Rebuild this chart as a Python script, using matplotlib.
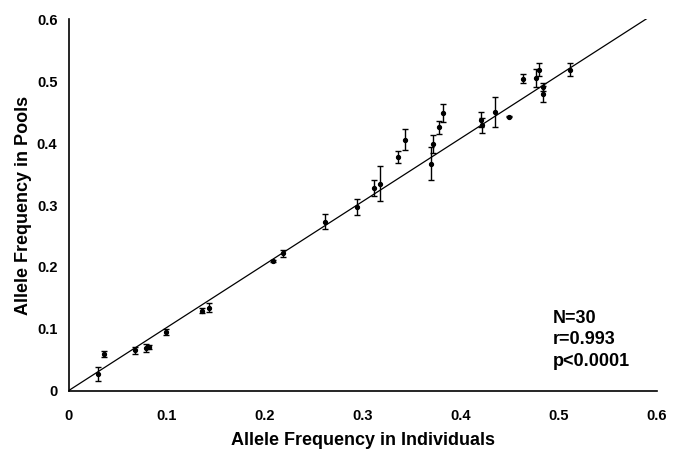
import matplotlib
matplotlib.use("Agg")
import matplotlib.pyplot as plt

plt.rcParams['font.family'] = ['Liberation Sans', 'DejaVu Sans']

# Data
indiv = [0.030, 0.036, 0.068, 0.079, 0.0825, 0.0995, 0.136, 0.143,
         0.2086, 0.2188, 0.2618, 0.2938, 0.3115, 0.3177, 0.336, 0.3432,
         0.3691, 0.3719, 0.3773, 0.3817, 0.421, 0.4216, 0.4346, 0.449,
         0.4629, 0.4765, 0.4799, 0.484, 0.484, 0.5112]
pools = [0.027, 0.059, 0.065, 0.069, 0.071, 0.095, 0.129, 0.134,
         0.210, 0.222, 0.273, 0.297, 0.3275, 0.3345, 0.3777, 0.4057,
         0.3668, 0.3987, 0.426, 0.4488, 0.438, 0.4288, 0.4505, 0.443,
         0.5044, 0.5055, 0.519, 0.491, 0.4796, 0.519]
errs = [0.011, 0.005, 0.0057, 0.006, 0.003, 0.005, 0.004, 0.007,
        0.002, 0.006, 0.012, 0.0125, 0.013, 0.028, 0.0103, 0.0167,
        0.027, 0.0143, 0.0105, 0.014, 0.012, 0.012, 0.024, 0.001,
        0.0068, 0.014, 0.011, 0.007, 0.0135, 0.011]

fit_x = [0.0, 0.596]
fit_y = [0.0, 0.608]

xticks = [0, 0.1, 0.2, 0.3, 0.4, 0.5, 0.6]
xticklabels = ['0', '0.1', '0.2', '0.3', '0.4', '0.5', '0.6']
yticks = [0, 0.1, 0.2, 0.3, 0.4, 0.5, 0.6]
yticklabels = ['0', '0.1', '0.2', '0.3', '0.4', '0.5', '0.6']

fig = plt.figure(figsize=(6.77, 4.5), dpi=100)
ax = fig.add_axes([0.1012, 0.1318, 0.8693, 0.8249])

ax.plot(fit_x, fit_y, color='black', lw=0.9, zorder=2)
ax.errorbar(indiv, pools, yerr=errs, fmt='o', color='black', ms=2.8,
            elinewidth=1.0, capsize=2.5, capthick=1.0, zorder=3)

ax.set_xlim(0, 0.6)
ax.set_ylim(0, 0.6)
ax.set_xticks(xticks)
ax.set_xticklabels(xticklabels, fontweight='bold', fontsize=10.5)
ax.set_yticks(yticks)
ax.set_yticklabels(yticklabels, fontweight='bold', fontsize=10.5)
ax.tick_params(axis='both', length=0)
ax.tick_params(axis='x', pad=13)
ax.tick_params(axis='y', pad=8)
for s in ['top', 'right']:
    ax.spines[s].set_visible(False)
for s in ['left', 'bottom']:
    ax.spines[s].set_linewidth(1.2)

ax.set_xlabel('Allele Frequency in Individuals', fontweight='bold', fontsize=13, labelpad=7)
ax.set_ylabel('Allele Frequency in Pools', fontweight='bold', fontsize=13)
ax.yaxis.set_label_coords(-0.062, 0.5)

ax.text(0.494, 0.082, 'N=30\nr=0.993\np<0.0001', fontweight='bold', fontsize=13,
        va='center', ha='left', linespacing=1.32)

fig.savefig('out.png', dpi=100)
